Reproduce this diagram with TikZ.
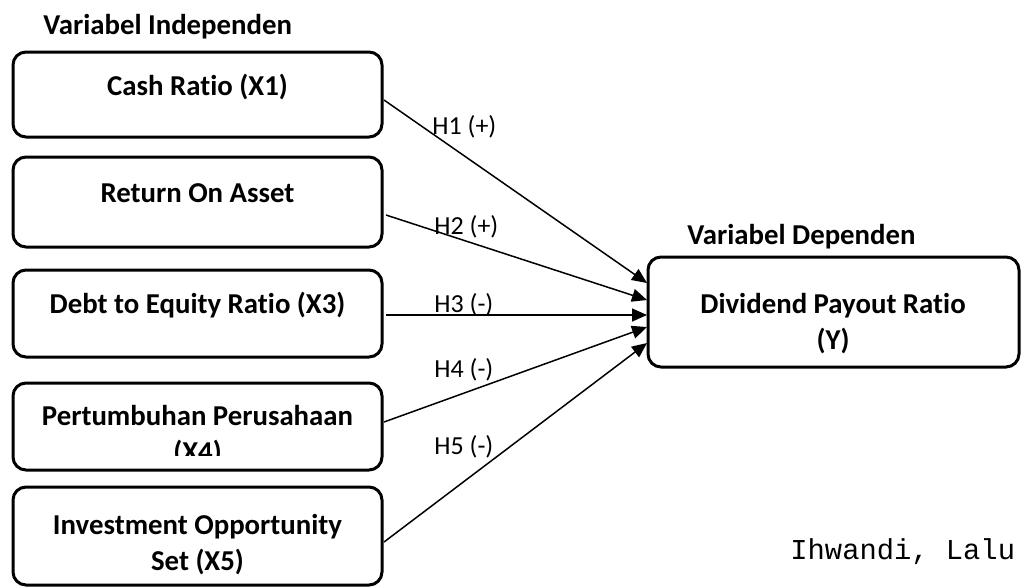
\documentclass[tikz,border=0pt]{standalone}
\usepackage{fontspec}
\setmainfont[Ligatures=NoCommon]{Carlito}
\setmonofont{Liberation Mono}
\usetikzlibrary{arrows.meta, positioning}
\tikzstyle{varbox} = [draw=black, line width=1.5pt, rounded corners=6.5pt, minimum width=184.5pt, inner sep=0]
\tikzstyle{boxtext} = [font=\bfseries\fontsize{14.4}{18}\selectfont, align=center, inner sep=0]
\tikzstyle{heading} = [font=\bfseries\fontsize{14.4}{18}\selectfont, anchor=west, inner sep=0]
\tikzstyle{hyp} = [font=\fontsize{13}{15}\selectfont, anchor=west, inner sep=0]
\tikzstyle{link} = [line width=0.75pt, -{Triangle[length=7.5pt, width=6.5pt]}]

\begin{document}
\begin{tikzpicture}[x=0.5pt, y=-0.5pt]
	\useasboundingbox (0,0) rectangle (1021,586);

	\node (IndepHead) [heading] at (43, 27) {Variabel Independen};

	% independent variables
	\node (CR) [varbox, minimum height=42.5pt] at (197.5, 94.5) {};
	\node (CRText) [boxtext] at (197.5, 87) {Cash Ratio (X1)};

	\node (ROA) [varbox, minimum height=45pt] at (197.5, 202) {};
	\node (ROAText) [boxtext] at (197.5, 193) {Return On Asset};

	\node (DER) [varbox, minimum height=43.5pt] at (197.5, 313.5) {};
	\node (DERText) [boxtext] at (197.5, 305) {Debt to Equity Ratio (X3)};

	\node (PP) [varbox, minimum height=43.5pt] at (197.5, 426.5) {};
	\begin{scope}
		\clip (13, 383) rectangle (382, 455);
		\node (PPText) [boxtext] at (197.5, 435.5) {Pertumbuhan Perusahaan\\(X4)};
	\end{scope}

	\node (IOS) [varbox, minimum height=49pt] at (197.5, 536) {};
	\node (IOSText) [boxtext] at (197.5, 545) {Investment Opportunity\\Set (X5)};

	% dependent variable
	\node (DepHead) [heading] at (687, 237) {Variabel Dependen};
	\node (DPR) [varbox, minimum width=185.5pt, minimum height=55pt] at (833.5, 312) {};
	\node (DPRText) [boxtext] at (833, 323.5) {Dividend Payout Ratio\\(Y)};

	% hypotheses
	\coordinate (CROut) at (384, 100);
	\coordinate (ROAOut) at (386, 215);
	\coordinate (DEROut) at (386, 315);
	\coordinate (PPOut) at (384, 422);
	\coordinate (IOSOut) at (384, 542);

	\coordinate (DPRIn1) at (647, 283);
	\coordinate (DPRIn2) at (647, 300);
	\coordinate (DPRIn3) at (647, 315);
	\coordinate (DPRIn4) at (647, 327);
	\coordinate (DPRIn5) at (647, 343);

	\draw [link] (CROut) -- (DPRIn1);
	\draw [link] (ROAOut) -- (DPRIn2);
	\draw [link] (DEROut) -- (DPRIn3);
	\draw [link] (PPOut) -- (DPRIn4);
	\draw [link] (IOSOut) -- (DPRIn5);

	\node (H1) [hyp] at (432, 127) {H1 (+)};
	\node (H2) [hyp] at (434, 227) {H2 (+)};
	\node (H3) [hyp] at (434, 305) {H3 (-)};
	\node (H4) [hyp] at (434, 370) {H4 (-)};
	\node (H5) [hyp] at (434, 447) {H5 (-)};

	\node (Source) [anchor=west, inner sep=0, font=\ttfamily\fontsize{14.4}{16}\selectfont] at (790, 552) {Ihwandi, Lalu};
\end{tikzpicture}
\end{document}
